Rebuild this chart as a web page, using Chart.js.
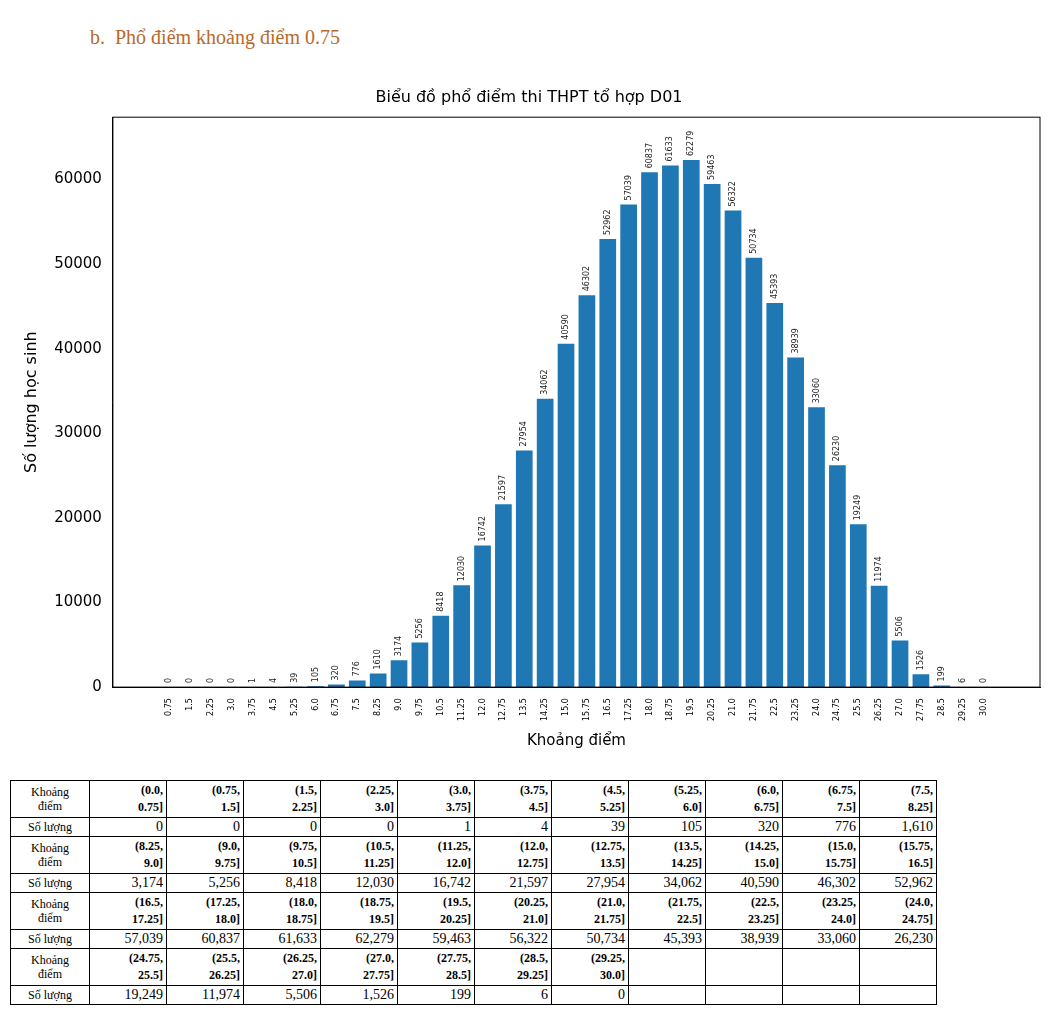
<!DOCTYPE html>
<html>
<head>
<meta charset="utf-8">
<script src="https://cdn.jsdelivr.net/npm/chart.js@4"></script>
<style>
  body { margin: 0; background: #fff; width: 1056px; height: 1012px; position: relative; overflow: hidden; }
  h2 { position: absolute; left: 90px; top: 26px; margin: 0; font: 20px "Liberation Serif", serif; color: #b86a2c; font-weight: normal; }
  #wrap { position: absolute; left: 0; top: 82px; width: 1056px; height: 672px; }
  table { position: absolute; left: 10px; top: 780px; border-collapse: collapse; font: 14px "Liberation Serif", serif; }
  td { border: 1px solid #000; padding: 0 3px; width: 70px; text-align: right; line-height: 16px; height: 18px; }
  td.h { width: 72px; text-align: center; font-size: 12px; }
  tr.k td { font-size: 12px; font-weight: bold; line-height: 17px; height: 36px; }
  tr.k td.h { font-weight: normal; line-height: 14px; }
</style>
</head>
<body>
<h2>b.&nbsp; Phổ điểm khoảng điểm 0.75</h2>
<div id="wrap"><canvas id="chart"></canvas></div>
<table id="tbl"></table>
<script>
// Tick labels (upper bound of each interval)
const tickLabels = ['0.75','1.5','2.25','3.0','3.75','4.5','5.25','6.0','6.75','7.5','8.25','9.0','9.75','10.5',
  '11.25','12.0','12.75','13.5','14.25','15.0','15.75','16.5','17.25','18.0','18.75','19.5','20.25','21.0',
  '21.75','22.5','23.25','24.0','24.75','25.5','26.25','27.0','27.75','28.5','29.25','30.0'];
const intervals = ['(0.0,\n0.75]','(0.75,\n1.5]','(1.5,\n2.25]','(2.25,\n3.0]','(3.0,\n3.75]','(3.75,\n4.5]','(4.5,\n5.25]',
  '(5.25,\n6.0]','(6.0,\n6.75]','(6.75,\n7.5]','(7.5,\n8.25]','(8.25,\n9.0]','(9.0,\n9.75]','(9.75,\n10.5]','(10.5,\n11.25]',
  '(11.25,\n12.0]','(12.0,\n12.75]','(12.75,\n13.5]','(13.5,\n14.25]','(14.25,\n15.0]','(15.0,\n15.75]','(15.75,\n16.5]',
  '(16.5,\n17.25]','(17.25,\n18.0]','(18.0,\n18.75]','(18.75,\n19.5]','(19.5,\n20.25]','(20.25,\n21.0]','(21.0,\n21.75]',
  '(21.75,\n22.5]','(22.5,\n23.25]','(23.25,\n24.0]','(24.0,\n24.75]','(24.75,\n25.5]','(25.5,\n26.25]','(26.25,\n27.0]',
  '(27.0,\n27.75]','(27.75,\n28.5]','(28.5,\n29.25]','(29.25,\n30.0]'];
const counts = [0,0,0,0,1,4,39,105,320,776,1610,3174,5256,8418,12030,16742,21597,27954,34062,40590,46302,52962,
  57039,60837,61633,62279,59463,56322,50734,45393,38939,33060,26230,19249,11974,5506,1526,199,6,0];
const yTicks = [0,10000,20000,30000,40000,50000,60000];

// Build table
const tbl = document.getElementById('tbl');
for (let r = 0; r < 4; r++) {
  let k = '<tr class="k"><td class="h">Khoảng<br>điểm</td>', s = '<tr><td class="h">Số lượng</td>';
  for (let c = 0; c < 11; c++) {
    const i = r * 11 + c;
    if (i < counts.length) {
      k += '<td>' + intervals[i].replace('\n', '<br>') + '</td>';
      s += '<td>' + counts[i].toLocaleString('en-US') + '</td>';
    } else { k += '<td></td>'; s += '<td></td>'; }
  }
  tbl.innerHTML += k + '</tr>' + s + '</tr>';
}

// Rotated value labels above bars + box around plot area
const barLabels = {
  id: 'barLabels',
  afterDatasetsDraw(chart) {
    const ctx = chart.ctx;
    ctx.save();
    ctx.font = '8px "DejaVu Sans"';
    ctx.fillStyle = '#222';
    ctx.textBaseline = 'middle';
    chart.getDatasetMeta(0).data.forEach((bar, i) => {
      ctx.save();
      ctx.translate(bar.x, bar.y - 4);
      ctx.rotate(-Math.PI / 2);
      ctx.fillText(String(counts[i]), 0, 0);
      ctx.restore();
    });
    const a = chart.chartArea;
    ctx.strokeStyle = '#000';
    ctx.lineWidth = 1;
    ctx.strokeRect(a.left, a.top, a.right - a.left, a.bottom - a.top);
    ctx.restore();
  }
};

new Chart(document.getElementById('chart'), {
  type: 'bar',
  data: {
    datasets: [{
      data: counts.map((v, i) => ({ x: i, y: v })),
      backgroundColor: '#1f77b4',
      barPercentage: 0.8,
      categoryPercentage: 1
    }]
  },
  plugins: [barLabels],
  options: {
    responsive: true,
    maintainAspectRatio: false,
    animation: false,
    layout: { padding: { left: 18, right: 16, top: 0, bottom: 0 } },
    plugins: {
      legend: { display: false },
      tooltip: { enabled: false },
      title: {
        display: true,
        text: 'Biểu đồ phổ điểm thi THPT tổ hợp D01',
        color: '#000',
        font: { family: 'DejaVu Sans', size: 16, weight: 'normal' },
        padding: { top: 6, bottom: 10 }
      }
    },
    scales: {
      x: {
        type: 'linear',
        min: -2.15,
        max: 41.15,
        grid: { display: false, drawTicks: true },
        border: { color: '#000' },
        afterBuildTicks: axis => { axis.ticks = tickLabels.map((_, i) => ({ value: i })); },
        ticks: {
          color: '#000',
          font: { family: 'DejaVu Sans', size: 8 },
          minRotation: 90, maxRotation: 90,
          autoSkip: false,
          callback: v => tickLabels[v]
        },
        title: {
          display: true, text: 'Khoảng điểm', color: '#000',
          font: { family: 'DejaVu Sans', size: 15 }, padding: { top: 8 }
        }
      },
      y: {
        min: 0,
        max: 67350,
        grid: { display: false },
        border: { color: '#000' },
        afterBuildTicks: axis => { axis.ticks = yTicks.map(v => ({ value: v })); },
        ticks: { color: '#000', font: { family: 'DejaVu Sans', size: 15 }, callback: v => String(v) },
        title: {
          display: true, text: 'Số lượng học sinh', color: '#000',
          font: { family: 'DejaVu Sans', size: 16 }, padding: { bottom: 10 }
        }
      }
    }
  }
});
</script>
</body>
</html>
